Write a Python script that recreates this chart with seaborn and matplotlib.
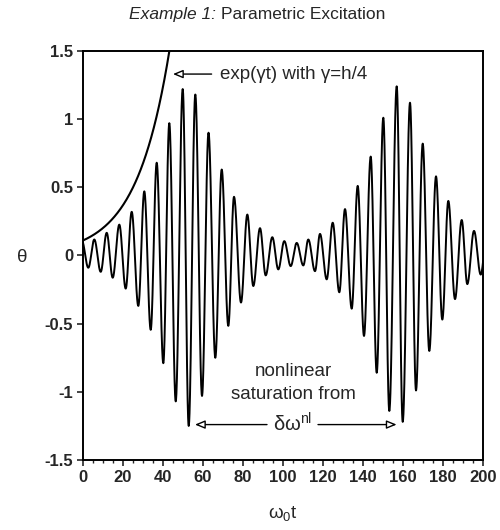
import numpy as np
import pandas as pd
import matplotlib
matplotlib.use("Agg")
import matplotlib.pyplot as plt
import seaborn as sns

# ---- data ----
# extrema of theta(t): times (omega_0 t) and values, alternating max/min
ext_t = [-0.6, 2.65, 5.65, 8.85, 11.85, 14.85, 18.15, 21.35, 24.35, 27.65,
         30.65, 33.85, 36.85, 40.15, 43.15, 46.35, 49.85, 52.85, 56.15, 59.5,
         62.75, 66.15, 69.35, 72.65, 75.5, 79.0, 82.15, 85.15, 88.5, 91.35,
         94.65, 97.65, 100.65, 103.85, 106.85, 110.15, 112.65, 116.0, 118.5, 121.85,
         124.85, 128.15, 131.0, 134.35, 137.35, 140.5, 143.85, 146.85, 150.15, 153.15,
         156.85, 159.85, 163.5, 166.5, 169.85, 173.15, 176.5, 179.65, 182.65, 186.0,
         189.35, 192.15, 195.5, 198.85, 201.9]
ext_v = [0.11, -0.09, 0.117, -0.12, 0.166, -0.163, 0.226, -0.243, 0.32, -0.37,
         0.47, -0.545, 0.68, -0.79, 0.97, -1.07, 1.22, -1.25, 1.18, -1.03,
         0.90, -0.75, 0.63, -0.516, 0.43, -0.345, 0.30, -0.224, 0.20, -0.146,
         0.134, -0.102, 0.105, -0.078, 0.092, -0.073, 0.117, -0.115, 0.158, -0.175,
         0.24, -0.27, 0.34, -0.39, 0.51, -0.59, 0.725, -0.86, 1.01, -1.14,
         1.24, -1.22, 1.12, -0.99, 0.82, -0.70, 0.58, -0.47, 0.40, -0.32,
         0.26, -0.21, 0.18, -0.14, 0.15]

# growth curve exp(gamma t), amplitude and rate
exp_amp = 0.11
exp_gamma = 0.0605
exp_t_end = 43.5

x_ticks = [0, 20, 40, 60, 80, 100, 120, 140, 160, 180, 200]
y_ticks = [-1.5, -1, -0.5, 0, 0.5, 1, 1.5]
y_ticklabels = ["-1.5", "-1", "-0.5", "0", "0.5", "1", "1.5"]

# ---- build smooth oscillation through the extrema (half-cosine between them) ----
tt, vv = [], []
for i in range(len(ext_t) - 1):
    t0, t1 = ext_t[i], ext_t[i + 1]
    v0, v1 = ext_v[i], ext_v[i + 1]
    s = np.linspace(0, 1, 40, endpoint=False)
    tt.extend(t0 + (t1 - t0) * s)
    vv.extend((v0 + v1) / 2 + (v0 - v1) / 2 * np.cos(np.pi * s))
tt.append(ext_t[-1]); vv.append(ext_v[-1])
df_sig = pd.DataFrame({"t": tt, "theta": vv})

te = np.linspace(0, exp_t_end, 200)
df_exp = pd.DataFrame({"t": te, "g": exp_amp * np.exp(exp_gamma * te)})

# ---- style ----
sns.set_style("ticks")
plt.rcParams["font.family"] = ["Liberation Sans", "DejaVu Sans"]
plt.rcParams["mathtext.fontset"] = "custom"
plt.rcParams["mathtext.rm"] = "Liberation Sans"
plt.rcParams["mathtext.it"] = "Liberation Sans:italic"
plt.rcParams["mathtext.bf"] = "Liberation Sans:bold"

fig = plt.figure(figsize=(5.0, 5.3), dpi=100)
ax = fig.add_axes([0.166, 0.132, 0.800, 0.772])

sns.lineplot(data=df_sig, x="t", y="theta", ax=ax, color="black", lw=1.4,
             sort=False, estimator=None)
sns.lineplot(data=df_exp, x="t", y="g", ax=ax, color="black", lw=1.5,
             sort=False, estimator=None)

ax.set_xlim(0, 200)
ax.set_ylim(-1.5, 1.5)
ax.set_xticks(x_ticks)
ax.set_xticks(np.arange(0, 201, 5), minor=True)
ax.set_yticks(y_ticks)
ax.set_yticklabels(y_ticklabels)
for lab in ax.get_xticklabels() + ax.get_yticklabels():
    lab.set_fontsize(12)
    lab.set_fontweight("bold")
ax.tick_params(which="major", direction="out", length=4, width=1.2, pad=3)
ax.tick_params(which="minor", direction="out", length=2.5, width=1.0)
for sp in ax.spines.values():
    sp.set_linewidth(1.4)
    sp.set_color("black")

ax.set_xlabel(r"$\mathregular{\omega_0t}$", fontsize=13.5, labelpad=14)
ax.set_ylabel("")
fig.text(22 / 500, 1 - 257 / 530, "θ", fontsize=13.5, ha="center", va="center")

# annotations
arrow_kw = dict(arrowstyle="-|>,head_length=0.6,head_width=0.25", color="black",
                lw=1.0, fc="white", shrinkA=0, shrinkB=0)
ax.annotate("", xy=(45, 1.33), xytext=(64.3, 1.33), arrowprops=arrow_kw)
ax.text(68.5, 1.33, "exp(γt) with γ=h/4", fontsize=13.5, va="center", ha="left")

ax.text(105, -0.85, "nonlinear", fontsize=13.5, ha="center", va="center")
ax.text(105, -1.02, "saturation from", fontsize=13.5, ha="center", va="center")
ax.text(105, -1.235, r"$\mathregular{\delta\omega^{nl}}$", fontsize=14.5, ha="center", va="center")
ax.annotate("", xy=(56, -1.24), xytext=(92, -1.24), arrowprops=arrow_kw)
ax.annotate("", xy=(156.8, -1.24), xytext=(117.5, -1.24), arrowprops=arrow_kw)

fig.text(216 / 500, 0.973, "Example 1:", fontsize=12.5, style="italic",
         ha="right", va="center")
fig.text(221 / 500, 0.973, "Parametric Excitation", fontsize=12.5,
         ha="left", va="center")

fig.savefig("out.png", dpi=100, facecolor="white")
